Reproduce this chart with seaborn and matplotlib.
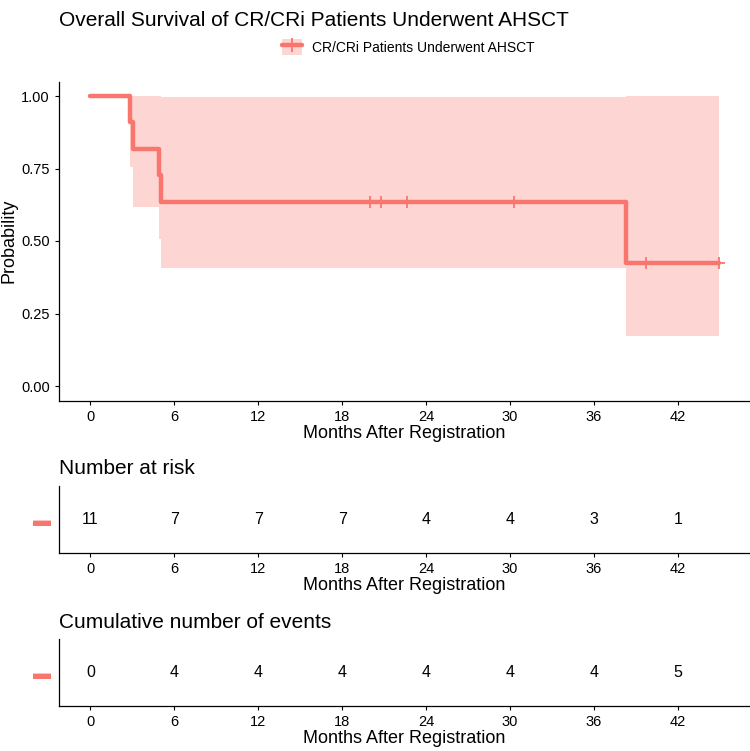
import numpy as np
import pandas as pd
import matplotlib
matplotlib.use("Agg")
import matplotlib.pyplot as plt
import seaborn as sns
from matplotlib.patches import Patch
from matplotlib.lines import Line2D

# ==============================
#        Data
# ==============================
group_name = "CR/CRi Patients Underwent AHSCT"

# Kaplan-Meier steps (months, survival, 95% CI)
step_time = [0, 2.80, 3.04, 4.88, 5.07, 38.3, 44.9]
step_surv = [1.0, 0.909, 0.818, 0.727, 0.636, 0.424, 0.424]
step_lower = [1.0, 0.755, 0.618, 0.507, 0.408, 0.171, 0.171]
step_upper = [1.0, 1.0, 1.0, 1.0, 0.995, 1.0, 1.0]

# censored observations
censor_time = [20.0, 20.8, 22.6, 30.3, 39.7, 44.9]

# tables
table_time = [0, 6, 12, 18, 24, 30, 36, 42]
n_at_risk = [11, 7, 7, 7, 4, 4, 3, 1]
n_events = [0, 4, 4, 4, 4, 4, 4, 5]

red = "#F8766D"
pink = "#FDD5D3"
x_label = "Months After Registration"

# ==============================
#          Style
# ==============================
sns.set_theme(style="ticks")
plt.rcParams["font.family"] = ["Liberation Sans", "DejaVu Sans"]
plt.rcParams["text.color"] = "black"
plt.rcParams["axes.labelcolor"] = "black"
plt.rcParams["axes.edgecolor"] = "black"
plt.rcParams["axes.linewidth"] = 0.9
plt.rcParams["xtick.color"] = "black"
plt.rcParams["ytick.color"] = "black"

W, H = 750, 751
fig = plt.figure(figsize=(7.5, 7.51), dpi=100)

def box(left, top, right, bottom):
    return [left / W, 1 - bottom / H, (right - left) / W, (bottom - top) / H]

ax = fig.add_axes(box(59, 81.5, 750, 400.5))
ax_risk = fig.add_axes(box(59, 486, 750, 553))
ax_evt = fig.add_axes(box(59, 639, 750, 706))

xlim = (-2.245, 47.145)
xticks = np.arange(0, 43, 6)

# ==============================
#        Survival curve
# ==============================
km = pd.DataFrame({"time": step_time, "surv": step_surv,
                   "lower": step_lower, "upper": step_upper})

ax.fill_between(km["time"], km["lower"], km["upper"], step="post",
                color=pink, linewidth=0)
sns.lineplot(data=km, x="time", y="surv", drawstyle="steps-post",
             color=red, linewidth=3.2, ax=ax, legend=False)

idx = np.searchsorted(step_time, censor_time, side="right") - 1
censor_surv = np.array(step_surv)[idx]
ax.plot(censor_time, censor_surv, linestyle="none", marker="+",
        markersize=9, markeredgewidth=1.3, color=red)

ax.set_xlim(*xlim)
ax.set_ylim(-0.05, 1.05)
ax.set_xticks(xticks)
ax.set_yticks([0, 0.25, 0.5, 0.75, 1.0])
ax.set_yticklabels(["0.00", "0.25", "0.50", "0.75", "1.00"])
ax.set_xlabel(x_label, fontsize=13, labelpad=1)
ax.set_ylabel("Probability", fontsize=13, labelpad=3)
ax.tick_params(labelsize=10.5, length=3, width=0.8)
sns.despine(ax=ax)

handle = (Patch(facecolor=pink, edgecolor="none"),
          Line2D([], [], color=red, linewidth=3.2, marker="|",
                 markersize=10, markeredgewidth=1.3))
fig.legend([handle], [group_name], loc="center", ncol=1,
           bbox_to_anchor=(408 / W, 1 - 47 / H), frameon=False,
           fontsize=10, handlelength=1.45, handleheight=1.45,
           handletextpad=0.7, borderpad=0)

fig.text(59 / W, 1 - 20 / H,
         "Overall Survival of CR/CRi Patients Underwent AHSCT",
         fontsize=15, va="center", ha="left")

# ==============================
#           Tables
# ==============================
def draw_table(axt, values, title, title_y):
    for t, v in zip(table_time, values):
        axt.text(t, 0, str(v), ha="center", va="center", fontsize=11.5)
    axt.set_xlim(*xlim)
    axt.set_ylim(-0.5, 0.5)
    axt.set_xticks(xticks)
    axt.set_yticks([0])
    axt.set_yticklabels(["\u25AC"], color=red, fontsize=13)
    axt.tick_params(axis="y", length=0, pad=6)
    axt.tick_params(axis="x", labelsize=10.5, length=3, width=0.8)
    axt.set_xlabel(x_label, fontsize=13, labelpad=1)
    sns.despine(ax=axt)
    fig.text(59 / W, 1 - title_y / H, title, fontsize=15,
             va="center", ha="left")

draw_table(ax_risk, n_at_risk, "Number at risk", 468)
draw_table(ax_evt, n_events, "Cumulative number of events", 622)

fig.savefig("out.png", dpi=100)
